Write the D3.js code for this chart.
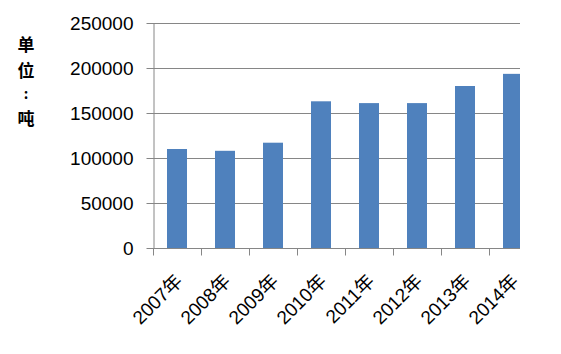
<!DOCTYPE html>
<html><head><meta charset="utf-8">
<script src="https://cdn.jsdelivr.net/npm/d3@7"></script>
<style>body{margin:0;background:#fff}</style>
</head><body>
<svg id="c" width="561" height="354"></svg>
<script>
const categories = ["2007年","2008年","2009年","2010年","2011年","2012年","2013年","2014年"];
const values = [110000,108000,117000,163000,161000,161000,180000,193500];
const yTicks = [0,50000,100000,150000,200000,250000];
const unitChars = ["单","位",":","吨"];

(function(){
const svg = d3.select("#c");
const pLeft = 153, pRight = 537, clipRight = 520, pTop = 23, pBottom = 248;
const x = d3.scaleBand().domain(categories).range([pLeft, pRight]).paddingInner(0.5833).paddingOuter(0.2917);
const y = d3.scaleLinear().domain([0,250000]).range([pBottom, pTop]);
const grey = "#868686";

svg.append("defs").append("clipPath").attr("id","pc")
  .append("rect").attr("x",pLeft).attr("y",0).attr("width",clipRight-pLeft).attr("height",pBottom+1);

// gridlines
svg.append("g").selectAll("line").data(yTicks.filter(d=>d>0)).join("line")
  .attr("x1",pLeft).attr("x2",clipRight)
  .attr("y1",d=>Math.round(y(d))+0.5).attr("y2",d=>Math.round(y(d))+0.5)
  .attr("stroke",grey).attr("stroke-width",1);

// bars
svg.append("g").attr("clip-path","url(#pc)").selectAll("rect").data(values).join("rect")
  .attr("x",(d,i)=>x(categories[i])).attr("width",x.bandwidth())
  .attr("y",d=>y(d)).attr("height",d=>pBottom-y(d))
  .attr("fill","#4F81BD");

// y axis
const ya = svg.append("g").attr("transform",`translate(${pLeft+0.5},0)`)
  .call(d3.axisLeft(y).tickValues(yTicks).tickSize(7).tickSizeOuter(0).tickPadding(13).tickFormat(d3.format("d")));
ya.select(".domain").attr("stroke",grey);
ya.selectAll(".tick line").attr("stroke",grey);
ya.selectAll("text").attr("font-family","'Liberation Sans', Arial, sans-serif").attr("font-size",19).attr("fill","#000");

// x axis
const xa = svg.append("g").attr("transform",`translate(0,${pBottom+0.5})`);
xa.append("line").attr("x1",pLeft).attr("x2",clipRight).attr("stroke",grey);
const tickXs = d3.range(categories.length).map(i=>pLeft + i*x.step());
xa.selectAll(".tk").data(tickXs).join("line").attr("class","tk")
  .attr("x1",d=>Math.round(d)+0.5).attr("x2",d=>Math.round(d)+0.5).attr("y1",0).attr("y2",7).attr("stroke",grey);
xa.selectAll("text").data(categories).join("text")
  .attr("transform",d=>`translate(${x(d)+x.bandwidth()/2-4},${23}) rotate(-45)`)
  .attr("text-anchor","end").attr("dy","0.8em")
  .attr("font-family","'Liberation Sans', Arial, 'Noto Sans CJK SC', sans-serif").attr("font-size",19).attr("fill","#000")
  .text(d=>d);

// unit label (stacked characters)
svg.append("g").selectAll("text").data(unitChars).join("text")
  .attr("x",26).attr("y",(d,i)=>[51,77,99,125][i]).attr("text-anchor","middle")
  .attr("font-family","'Noto Sans CJK SC', sans-serif").attr("font-weight","bold")
  .attr("font-size",d=>d===":"?14:17).attr("fill","#000")
  .text(d=>d);
})();
</script>
</body></html>
